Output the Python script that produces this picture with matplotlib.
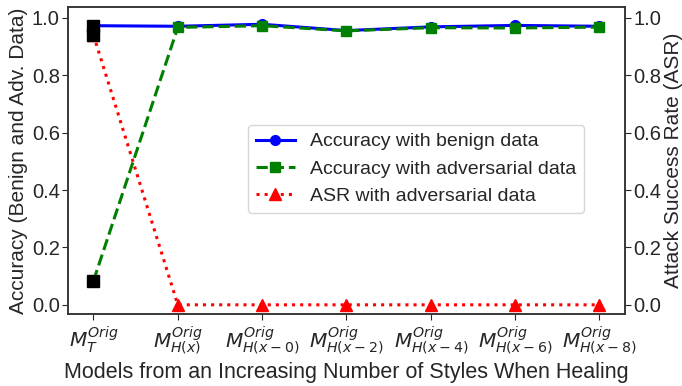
import numpy as np
import matplotlib
matplotlib.use('Agg')
import matplotlib.pyplot as plt

# data
models = [r'$M_{T}^{Orig}$', r'$M_{H(x)}^{Orig}$', r'$M_{H(x-0)}^{Orig}$', r'$M_{H(x-2)}^{Orig}$',
          r'$M_{H(x-4)}^{Orig}$', r'$M_{H(x-6)}^{Orig}$', r'$M_{H(x-8)}^{Orig}$']
acc_benign = [0.973, 0.971, 0.978, 0.956, 0.969, 0.974, 0.971]
acc_adv = [0.084, 0.967, 0.973, 0.955, 0.966, 0.965, 0.968]
asr_adv = [0.94, 0.0, 0.0, 0.0, 0.0, 0.0, 0.0]

plt.rcParams['font.family'] = ['Liberation Sans', 'DejaVu Sans']
plt.rcParams['text.color'] = '#262626'
plt.rcParams['axes.labelcolor'] = '#262626'
plt.rcParams['xtick.color'] = '#262626'
plt.rcParams['ytick.color'] = '#262626'

x = np.arange(len(models))

fig = plt.figure(figsize=(6.82, 3.86), dpi=100)
ax1 = fig.add_axes([0.100, 0.1865, 0.816, 0.7945])
ax2 = ax1.twinx()

l1, = ax1.plot(x, acc_benign, color='blue', linestyle='-', marker='o', markersize=7,
               linewidth=2.2, label='Accuracy with benign data')
l2, = ax1.plot(x, acc_adv, color='green', linestyle='--', marker='s', markersize=7,
               linewidth=2.2, label='Accuracy with adversarial data')
l3, = ax2.plot(x, asr_adv, color='red', linestyle=':', marker='^', markersize=8,
               linewidth=2.2, label='ASR with adversarial data')

# first model drawn in black
ax1.plot(x[0], acc_benign[0], 's', color='black', markersize=9, zorder=5)
ax1.plot(x[0], acc_adv[0], 's', color='black', markersize=9, zorder=5)
ax2.plot(x[0], asr_adv[0], 's', color='black', markersize=9, zorder=5)

for ax in (ax1, ax2):
    ax.set_ylim(-0.032, 1.037)
    ax.set_yticks([0.0, 0.2, 0.4, 0.6, 0.8, 1.0])
    ax.tick_params(axis='y', labelsize=14.5, length=4, pad=2)
    for s in ax.spines.values():
        s.set_color('#333333')
        s.set_linewidth(1.1)
ax1.set_xlim(-0.3, 6.3)
ax1.set_xticks(x)
ax1.set_xticklabels(models, fontsize=14.5)
ax1.tick_params(axis='x', length=4)

ax1.set_ylabel('Accuracy (Benign and Adv. Data)', fontsize=15, labelpad=3)
ax2.set_ylabel('Attack Success Rate (ASR)', fontsize=15, labelpad=2)
ax1.set_xlabel('Models from an Increasing Number of Styles When Healing', fontsize=15.5)

leg = ax1.legend(handles=[l1, l2, l3], loc='center right', bbox_to_anchor=(0.945, 0.473),
                 fontsize=14, frameon=True, fancybox=True)
leg.get_frame().set_edgecolor('#cccccc')

plt.savefig('out.png', dpi=100)
